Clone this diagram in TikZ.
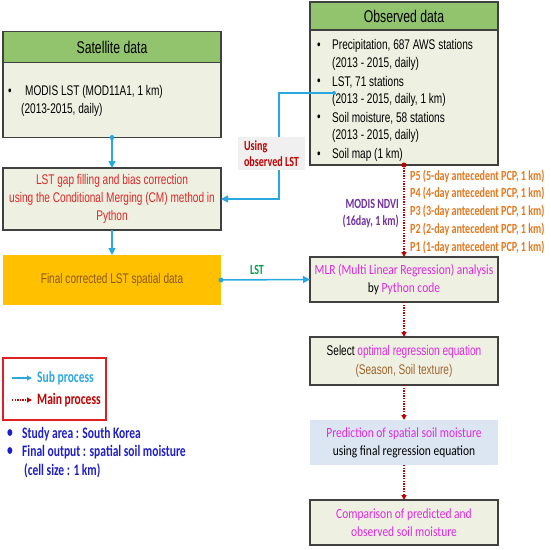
\documentclass[tikz,border=0pt]{standalone}
\usepackage{fontspec}
\setmainfont{Liberation Sans}[FakeStretch=0.72]
\newfontfamily\lab{Carlito}[FakeStretch=0.82]
\newfontfamily\labb{Carlito}[FakeStretch=0.72]
\usetikzlibrary{arrows.meta,calc}
\definecolor{hdrgreen}{RGB}{146,196,110}
\definecolor{bodyfill}{RGB}{238,241,226}
\definecolor{bordergray}{RGB}{64,64,64}
\definecolor{subblue}{RGB}{41,168,224}
\definecolor{mainred}{RGB}{192,0,0}
\definecolor{pcporange}{RGB}{228,120,30}
\definecolor{ndvipurple}{RGB}{112,48,160}
\definecolor{mag}{RGB}{226,40,226}
\definecolor{gold}{RGB}{255,192,0}
\definecolor{goldtext}{RGB}{140,90,20}
\definecolor{lightblue}{RGB}{220,230,242}
\definecolor{labelgray}{RGB}{240,240,240}
\definecolor{studyblue}{RGB}{30,30,200}
\definecolor{lstgreen}{RGB}{0,160,80}
\definecolor{gapred}{RGB}{220,40,40}
\definecolor{legred}{RGB}{224,32,32}
\definecolor{seasonbrown}{RGB}{160,98,45}
\begin{document}
\begin{tikzpicture}[x=1pt,y=-1pt,
  hdr/.style={draw=bordergray,line width=1.2pt,fill=hdrgreen,inner sep=0pt,outer sep=0pt,font=\fontsize{17}{19}\selectfont},
  bodybox/.style={draw=bordergray,line width=1.2pt,fill=bodyfill,inner sep=0pt,outer sep=0pt},
  txt/.style={inner sep=0pt,font=\fontsize{14}{18}\selectfont},
  labtxt/.style={inner sep=0pt,font=\labb\bfseries\fontsize{14}{16}\selectfont},
  sub/.style={draw=subblue,line width=1.5pt,-{Triangle[length=7pt,width=7pt]}},
  mainp/.style={draw=mainred,line width=1.3pt,dash pattern=on 1.3pt off 1.3pt,-{Triangle[length=5pt,width=5pt]}},
  bluedot/.style={circle,fill=subblue,inner sep=0pt,minimum size=5pt},
  reddot/.style={circle,fill=mainred,inner sep=0pt,minimum size=5pt}]
\useasboundingbox (0,0) rectangle (550,550);
% Satellite data
\node[hdr,minimum width=218pt,minimum height=31pt] (sath) at (112,47) {Satellite data};
\node[bodybox,minimum width=218pt,minimum height=75pt,anchor=north] (satb) at (sath.south) {};
\node[txt,anchor=west] (satbul) at (8,92) {•};
\node[txt,anchor=west] (sat1) at (25,92) {MODIS LST (MOD11A1, 1 km)};
\node[txt,anchor=west] (sat2) at (21,110) {(2013-2015, daily)};
% Observed data
\node[hdr,minimum width=188pt,minimum height=28pt] (obsh) at (404,16) {Observed data};
\node[bodybox,minimum width=188pt,minimum height=135pt,anchor=north] (obsb) at (obsh.south) {};
\node[txt,anchor=west] (ob1b) at (317,46) {•};
\node[txt,anchor=west] (ob1) at (332,46) {Precipitation, 687 AWS stations};
\node[txt,anchor=west] (ob1y) at (332,64) {(2013 - 2015, daily)};
\node[txt,anchor=west] (ob2b) at (317,82) {•};
\node[txt,anchor=west] (ob2) at (332,82) {LST, 71 stations};
\node[txt,anchor=west] (ob2y) at (332,100) {(2013 - 2015, daily, 1 km)};
\node[txt,anchor=west] (ob3b) at (317,118) {•};
\node[txt,anchor=west] (ob3) at (332,118) {Soil moisture, 58 stations};
\node[txt,anchor=west] (ob3y) at (332,136) {(2013 - 2015, daily)};
\node[txt,anchor=west] (ob4b) at (317,155) {•};
\node[txt,anchor=west] (ob4) at (332,155) {Soil map (1 km)};
% Gap filling box
\node[bodybox,minimum width=218pt,minimum height=62pt,align=center,txt,text=gapred] (gap) at (112,199) {LST gap filling and bias correction\\using the Conditional Merging (CM) method in\\Python};
% Final corrected
\node[fill=gold,minimum width=218pt,minimum height=50pt,inner sep=0pt,outer sep=0pt,txt,text=goldtext] (final) at (112,280) {Final corrected LST spatial data};
% MLR
\node[bodybox,minimum width=188pt,minimum height=45pt,align=center,txt,font=\lab\fontsize{14}{18}\selectfont,text=mag] (mlr) at (404,279.5) {MLR (Multi Linear Regression) analysis\\\textcolor{black}{by} Python code};
% Select
\node[bodybox,minimum width=188pt,minimum height=48pt,align=center,txt,font=\fontsize{14}{19}\selectfont,text=mag] (sel) at (404,361) {\textcolor{black}{Select} optimal regression equation\\\textcolor{seasonbrown}{(Season, Soil texture)}};
% Prediction
\node[fill=lightblue,minimum width=188pt,minimum height=45pt,inner sep=0pt,outer sep=0pt,align=center,font=\lab\fontsize{14}{18}\selectfont,text=mag] (pred) at (404,442.5) {Prediction of spatial soil moisture\\\textcolor{black}{using final regression equation}};
% Comparison
\node[bodybox,minimum width=188pt,minimum height=45pt,align=center,txt,font=\lab\fontsize{14}{18}\selectfont,text=mag] (comp) at (404,522.5) {Comparison of predicted and\\observed soil moisture};
% Sub process connectors
\draw[sub] (satb.south) -- (gap.north);
\node[bluedot] (d1) at (satb.south) {};
\draw[sub] (gap.south) -- (final.north);
\coordinate (lstpt) at (334,93);
\coordinate (bend) at (279,93);
\draw[sub] (lstpt) -- (bend) |- (gap.east);
\node[bluedot,minimum size=4pt] (d2) at (lstpt) {};
\node[fill=labelgray,minimum width=67pt,minimum height=33pt,inner sep=0pt,align=left,labtxt,text=mainred] (uselab) at (271.5,153.5) {Using\\observed LST};
\draw[sub] (final.east) -- (mlr.west);
\node[bluedot] (d3) at (final.east) {};
\node[labtxt,text=lstgreen] (lstlab) at (257,270) {LST};
% Main process connectors
\draw[mainp] (obsb.south) -- (mlr.north);
\node[reddot] (d4) at (obsb.south) {};
\draw[mainp] (mlr.south) -- (sel.north);
\draw[mainp] (sel.south) -- (pred.north);
\draw[mainp] (pred.south) -- (comp.north);
\node[labtxt,anchor=west,text=pcporange] (p5) at (410,176) {P5 (5-day antecedent PCP, 1 km)};
\node[labtxt,anchor=west,text=pcporange] (p4) at (410,193.5) {P4 (4-day antecedent PCP, 1 km)};
\node[labtxt,anchor=west,text=pcporange] (p3) at (410,211.5) {P3 (3-day antecedent PCP, 1 km)};
\node[labtxt,anchor=west,text=pcporange] (p2) at (410,229.5) {P2 (2-day antecedent PCP, 1 km)};
\node[labtxt,anchor=west,text=pcporange] (p1) at (410,247.5) {P1 (1-day antecedent PCP, 1 km)};
\node[labtxt,anchor=east,align=right,text=ndvipurple,font=\labb\bfseries\fontsize{14}{17}\selectfont] (ndvi) at (399,213.5) {MODIS NDVI\\(16day, 1 km)};
% Legend
\node[draw=legred,line width=1.2pt,minimum width=103pt,minimum height=62pt,inner sep=0pt] (leg) at (54.5,389) {};
\coordinate (la1) at (12,378); \coordinate (lb1) at (32,378);
\coordinate (la2) at (12,400); \coordinate (lb2) at (32,400);
\draw[sub,-{Triangle[length=5pt,width=5pt]},line width=1.3pt] (la1) -- (lb1);
\draw[mainp,-{Triangle[length=5pt,width=5pt]}] (la2) -- (lb2);
\node[labtxt,anchor=west,text=subblue,font=\labb\bfseries\fontsize{16}{18}\selectfont] (subt) at (37,378) {Sub process};
\node[labtxt,anchor=west,text=mainred,font=\labb\bfseries\fontsize{16}{18}\selectfont] (maint) at (37,400) {Main process};
% Study notes
\node[labtxt,anchor=west,text=studyblue,font=\labb\bfseries\fontsize{16}{18}\selectfont] (sb1) at (7,434) {•};
\node[labtxt,anchor=west,text=studyblue,font=\labb\bfseries\fontsize{16}{18}\selectfont] (s1) at (22,434) {Study area : South Korea};
\node[labtxt,anchor=west,text=studyblue,font=\labb\bfseries\fontsize{16}{18}\selectfont] (sb2) at (7,452) {•};
\node[labtxt,anchor=west,text=studyblue,font=\labb\bfseries\fontsize{16}{18}\selectfont] (s2) at (22,452) {Final output : spatial soil moisture};
\node[labtxt,anchor=west,text=studyblue,font=\labb\bfseries\fontsize{16}{18}\selectfont] (s3) at (24,471) {(cell size : 1 km)};
\end{tikzpicture}
\end{document}
